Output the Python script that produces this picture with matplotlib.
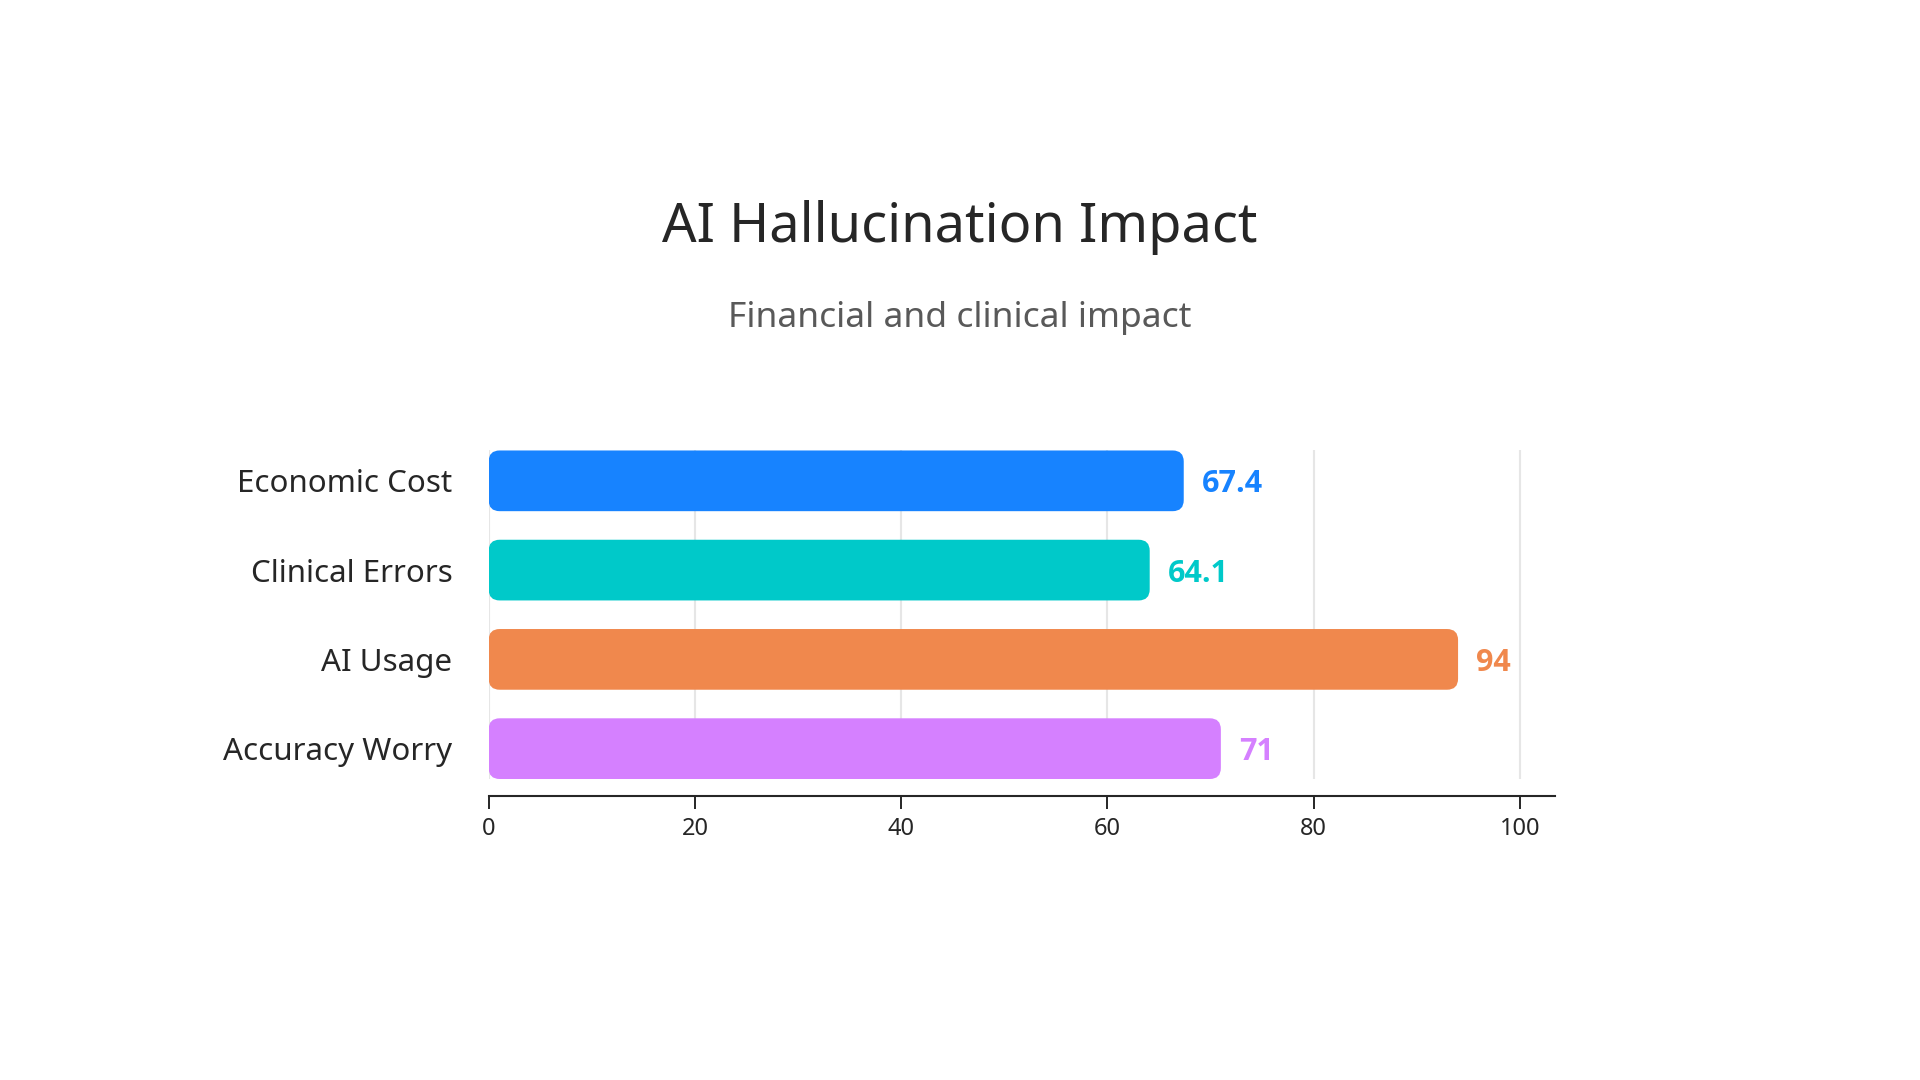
import matplotlib
matplotlib.use("Agg")
import matplotlib.pyplot as plt
from matplotlib.patches import FancyBboxPatch

# data
categories = ["Economic Cost", "Clinical Errors", "AI Usage", "Accuracy Worry"]
values = [67.4, 64.1, 94, 71]
colors = ["#1783FF", "#00C9C9", "#F0884D", "#D580FF"]
xticks = [0, 20, 40, 60, 80, 100]

plt.rcParams['font.family'] = ['Noto Sans', 'DejaVu Sans']

fig = plt.figure(figsize=(19.2, 10.8), dpi=100)
ax = fig.add_axes([0.2545, 0.2787, 0.5554, 0.3042])

bar_h = 0.68
n = len(categories)
ypos = list(range(n))[::-1]

ax.set_xlim(0, 103.4)
ax.set_ylim(-0.5 + (1 - bar_h) / 2, n - 0.5 - (1 - bar_h) / 2)

# rounded corners: work out how data units map to pixels
fig.canvas.draw()
p0 = ax.transData.transform((0, 0))
p1 = ax.transData.transform((1, 1))
px_x = p1[0] - p0[0]
px_y = p1[1] - p0[1]
radius_px = 11
rx = radius_px / px_x
aspect = px_x / px_y

for y, v, c in zip(ypos, values, colors):
    patch = FancyBboxPatch((0, y - bar_h / 2), v, bar_h,
                           boxstyle="round,pad=0,rounding_size=%f" % rx,
                           mutation_aspect=aspect,
                           facecolor=c, edgecolor="none", zorder=3)
    ax.add_patch(patch)
    ax.text(v + 18 / px_x, y, f"{v:g}", color=c, fontsize=22,
            fontweight="bold", family=['Open Sans', 'Lato', 'DejaVu Sans'],
            va="center_baseline", ha="left", zorder=4)

ax.set_yticks(ypos)
ax.set_yticklabels(categories)
ax.tick_params(axis="y", length=0, pad=26, labelsize=22.5, labelcolor="#262626")

ax.set_xticks(xticks)
ax.set_xticklabels([str(t) for t in xticks])
ax.tick_params(axis="x", length=9, width=1.4, color="#262626", pad=6,
               labelsize=17, labelcolor="#262626")

ax.grid(axis="x", color="#E6E6E6", linewidth=1.5, zorder=0)
ax.set_axisbelow(True)

for s in ["top", "right", "left"]:
    ax.spines[s].set_visible(False)
ax.spines["bottom"].set_position(("outward", 12.5))
ax.spines["bottom"].set_linewidth(1.5)
ax.spines["bottom"].set_color("#262626")

fig.text(0.5, 1 - 242 / 1080, "AI Hallucination Impact", ha="center",
         va="baseline", fontsize=39, color="#262626")
fig.text(0.5, 1 - 327 / 1080, "Financial and clinical impact", ha="center",
         va="baseline", fontsize=25.5, color="#595959")

fig.savefig("out.png", dpi=100, facecolor="white")
